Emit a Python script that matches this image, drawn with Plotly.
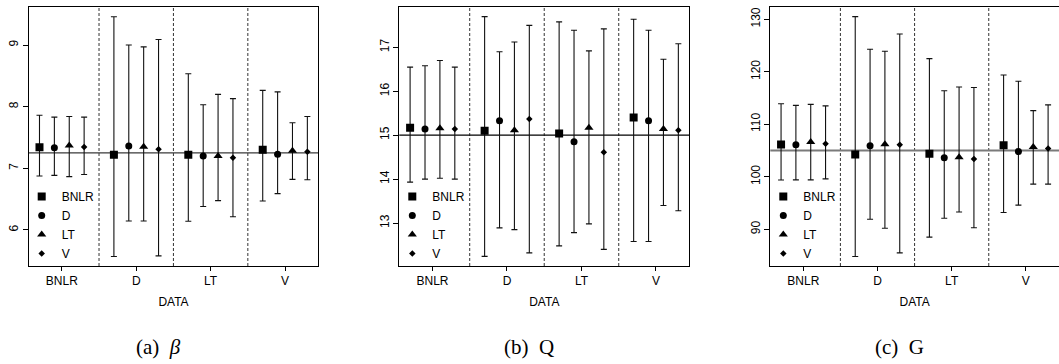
import plotly.graph_objects as go

# ---------------- data ----------------
groups = ["BNLR", "D", "LT", "V"]          # x-axis categories (DATA)
series = ["BNLR", "D", "LT", "V"]          # estimator series (legend)
captions = ["(a)\u2002<i>β</i>", "(b)\u2002Q", "(c)\u2002G"]
true_values = [7.25, 15.0, 105.0]          # horizontal reference lines

# (a) beta : rows = series, cols = groups
beta_est = [[7.34, 7.22, 7.22, 7.30],
            [7.335, 7.36, 7.20, 7.23],
            [7.37, 7.35, 7.20, 7.285],
            [7.345, 7.31, 7.17, 7.27]]
beta_lo = [[6.875, 5.57, 6.14, 6.47],
           [6.886, 6.145, 6.38, 6.59],
           [6.865, 6.145, 6.475, 6.82],
           [6.90, 5.58, 6.215, 6.815]]
beta_hi = [[7.86, 9.46, 8.535, 8.265],
           [7.83, 9.00, 8.03, 8.24],
           [7.84, 8.97, 8.20, 7.74],
           [7.83, 9.09, 8.13, 7.84]]

# (b) Q
q_est = [[15.17, 15.10, 15.04, 15.40],
         [15.14, 15.33, 14.85, 15.33],
         [15.16, 15.11, 15.17, 15.14],
         [15.14, 15.37, 14.61, 15.11]]
q_lo = [[13.93, 12.24, 12.48, 12.58],
        [14.00, 12.89, 12.78, 12.58],
        [14.02, 12.85, 12.98, 13.40],
        [14.00, 12.32, 12.40, 13.28]]
q_hi = [[16.55, 17.70, 17.58, 17.64],
        [16.58, 16.90, 17.39, 17.39],
        [16.70, 17.12, 16.92, 16.73],
        [16.55, 17.50, 17.42, 17.08]]

# (c) G
g_est = [[106.16, 104.25, 104.4, 106.0],
         [106.1, 105.9, 103.6, 104.8],
         [106.6, 106.2, 103.7, 105.65],
         [106.3, 106.1, 103.4, 105.4]]
g_lo = [[99.37, 84.8, 88.5, 93.2],
        [99.4, 91.9, 92.1, 94.6],
        [99.4, 90.2, 93.3, 98.6],
        [99.6, 85.5, 90.3, 98.6]]
g_hi = [[113.9, 130.5, 122.5, 119.4],
        [113.6, 124.3, 116.4, 118.2],
        [113.8, 123.9, 117.1, 112.6],
        [113.5, 127.2, 117.0, 113.7]]

# ---------------- style ----------------
W, H = 1059, 364
offsets = [-0.3, -0.1, 0.1, 0.3]
symbols = ["square", "circle", "triangle-up", "diamond"]
sizes = [8, 7, 8, 5]
x_domains = [(28.7, 318.3), (399.3, 689.3), (770.3, 1059.0)]
y_domain = (1 - 266 / H, 1 - 6.7 / H)
y_ranges = [(5.415, 9.622), (12.021, 17.925), (83.0, 132.4)]
y_dticks = [1, 1, 10]
ref_colors = ["#3a3a3a", "#000000", "#7a7a7a"]
ref_widths = [1.4, 1.1, 2.0]
AX_FONT = dict(family="Liberation Sans, Arial, sans-serif", size=12, color="#000")

panels = [(beta_est, beta_lo, beta_hi), (q_est, q_lo, q_hi), (g_est, g_lo, g_hi)]

fig = go.Figure()
layout = dict(
    width=W, height=H,
    margin=dict(l=0, r=0, t=0, b=0),
    paper_bgcolor="white", plot_bgcolor="white",
    font=AX_FONT,
    shapes=[], annotations=[],
)

for p, (est, lo, hi) in enumerate(panels):
    sfx = "" if p == 0 else str(p + 1)
    xa, ya = "x" + sfx, "y" + sfx
    leg = "legend" + sfx
    for s, name in enumerate(series):
        xs = [g + 1 + offsets[s] for g in range(len(groups))]
        fig.add_trace(go.Scatter(
            x=xs, y=est[s], mode="markers", name=name,
            xaxis=xa, yaxis=ya, legend=leg,
            marker=dict(symbol=symbols[s], size=sizes[s], color="black",
                        line=dict(width=0)),
            error_y=dict(type="data", symmetric=False,
                         array=[h - e for h, e in zip(hi[s], est[s])],
                         arrayminus=[e - l for e, l in zip(est[s], lo[s])],
                         color="#111", thickness=1.1, width=3),
            hoverinfo="x+y",
        ))
    x0, x1 = x_domains[p]
    layout["xaxis" + sfx] = dict(
        domain=[x0 / W, x1 / W], anchor=ya,
        range=[0.555, 4.447], tickmode="array",
        tickvals=[g + 1 for g in range(len(groups))], ticktext=groups,
        ticks="outside", ticklen=4, tickwidth=1, tickcolor="#000",
        showline=True, linecolor="#000", linewidth=1, mirror=True,
        showgrid=False, zeroline=False, fixedrange=True,
        title=dict(text="DATA", font=AX_FONT, standoff=10),
        tickfont=AX_FONT,
    )
    layout["yaxis" + sfx] = dict(
        domain=list(y_domain), anchor=xa,
        range=list(y_ranges[p]), dtick=y_dticks[p], tick0=0,
        ticks="outside", ticklen=5, tickwidth=1, tickcolor="#000",
        tickangle=-90,
        showline=True, linecolor="#000", linewidth=1, mirror=True,
        showgrid=False, zeroline=False, fixedrange=True,
        tickfont=AX_FONT,
    )
    layout[leg] = dict(
        x=(x0 - 7) / W, y=1 - 268 / H, xanchor="left", yanchor="bottom",
        bgcolor="rgba(0,0,0,0)", borderwidth=0,
        font=dict(family="Liberation Sans, Arial, sans-serif", size=12, color="#000"),
        itemwidth=30, tracegroupgap=0,
    )
    # separators between DATA groups
    for g in range(len(groups) - 1):
        layout["shapes"].append(dict(
            type="line", xref=xa, yref=ya + " domain",
            x0=g + 1.5, x1=g + 1.5, y0=0, y1=1,
            line=dict(color="#333", width=1, dash="3px,2px"), layer="below"))
    # true value line
    layout["shapes"].append(dict(
        type="line", xref=xa + " domain", yref=ya,
        x0=0, x1=1, y0=true_values[p], y1=true_values[p],
        line=dict(color=ref_colors[p], width=ref_widths[p]), layer="below"))
    # caption
    layout["annotations"].append(dict(
        text=captions[p], xref="paper", yref="paper",
        x=((x0 + x1) / 2 - 15) / W, y=1 - 346.5 / H,
        xanchor="center", yanchor="middle", showarrow=False,
        font=dict(family="Liberation Serif, Times New Roman, serif", size=21, color="#000"),
    ))

fig.update_layout(**layout)
fig.write_html(
    "out.html",
    config={"displayModeBar": False, "staticPlot": False},
    post_script="document.body.style.margin='0';document.body.style.overflow='hidden';",
)
